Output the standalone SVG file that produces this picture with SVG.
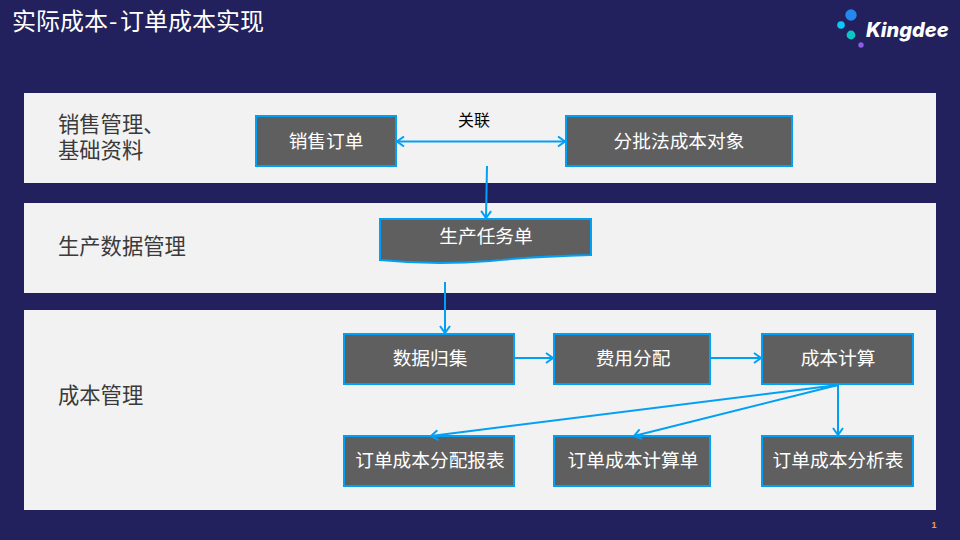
<svg xmlns="http://www.w3.org/2000/svg" width="960" height="540" viewBox="0 0 960 540">
<style>
text{font-family:"Noto Sans CJK SC","Liberation Sans",sans-serif}
.band{fill:#f2f2f2}
.box{fill:#5f5f5f;stroke:#00a0f5;stroke-width:2}
.t{fill:#fff;font-size:18.7px;text-anchor:middle}
.l{fill:#3a3a3a;font-size:21.3px}
.c{fill:none;stroke:#00a0f5;stroke-width:2}
</style>
<defs>
<marker id="a" viewBox="0 0 12 12" refX="11" refY="6" markerWidth="12" markerHeight="12" markerUnits="userSpaceOnUse" orient="auto-start-reverse"><path d="M4 1L11 6L4 11" fill="none" stroke="#00a0f5" stroke-width="2"/></marker>
</defs>
<rect width="960" height="540" fill="#22215d"/>
<text y="30" fill="#fff" font-size="24"><tspan x="12">实际成本</tspan><tspan x="109">-</tspan><tspan x="120">订单成本实现</tspan></text>
<g id="logo">
<circle cx="851" cy="15" r="5.7" fill="#2488ef"/>
<circle cx="841" cy="25" r="3.8" fill="#0dc8f5"/>
<circle cx="851" cy="35" r="4.4" fill="#0cc5c5"/>
<circle cx="861" cy="45" r="2.7" fill="#8f5ce8"/>
<text x="866" y="37" fill="#fff" font-size="20" font-weight="800" font-style="italic" style="font-family:'Inter','Liberation Sans',sans-serif">Kingdee</text>
</g>
<rect class="band" x="24" y="93" width="912" height="90"/>
<rect class="band" x="24" y="203" width="912" height="90"/>
<rect class="band" x="24" y="310" width="912" height="200"/>
<text class="l"><tspan x="58" y="132">销售管理、</tspan><tspan x="58" y="158">基础资料</tspan></text>
<text class="l" x="58" y="254">生产数据管理</text>
<text class="l" x="58" y="403">成本管理</text>
<g id="n1"><rect class="box" x="256" y="116" width="140" height="50"/><text class="t" x="326" y="148">销售订单</text></g>
<g id="n2"><rect class="box" x="566" y="116" width="226" height="50"/><text class="t" x="679" y="148">分批法成本对象</text></g>
<g id="n3"><path class="box" d="M380 219H591V255C550 256 520 258 490 261C450 264 410 263 380 260Z"/><text class="t" x="486" y="243">生产任务单</text></g>
<g id="n4"><rect class="box" x="344" y="334" width="170" height="50"/><text class="t" x="430" y="365">数据归集</text></g>
<g id="n5"><rect class="box" x="554" y="334" width="156" height="50"/><text class="t" x="633" y="365">费用分配</text></g>
<g id="n6"><rect class="box" x="762" y="334" width="151" height="50"/><text class="t" x="838" y="365">成本计算</text></g>
<g id="n7"><rect class="box" x="344" y="436" width="170" height="50"/><text class="t" x="430" y="467">订单成本分配报表</text></g>
<g id="n8"><rect class="box" x="554" y="436" width="156" height="50"/><text class="t" x="633" y="467">订单成本计算单</text></g>
<g id="n9"><rect class="box" x="762" y="436" width="151" height="50"/><text class="t" x="838" y="467">订单成本分析表</text></g>
<text x="474" y="126" font-size="16" text-anchor="middle" fill="#000">关联</text>
<g id="connectors">
<path class="c" d="M397 141.500H565" marker-start="url(#a)" marker-end="url(#a)"/>
<path class="c" d="M487 166L486 218" marker-end="url(#a)"/>
<path class="c" d="M445 282V333" marker-end="url(#a)"/>
<path class="c" d="M515 358H553" marker-end="url(#a)"/>
<path class="c" d="M711 358H761" marker-end="url(#a)"/>
<path class="c" d="M838 385L431 436" marker-end="url(#a)"/>
<path class="c" d="M838 385L634 436" marker-end="url(#a)"/>
<path class="c" d="M838 385V435" marker-end="url(#a)"/>
</g>
<text x="934" y="528" font-size="9" font-weight="700" fill="#f0a030" text-anchor="middle" style="font-family:'Liberation Sans',sans-serif">1</text>
</svg>
